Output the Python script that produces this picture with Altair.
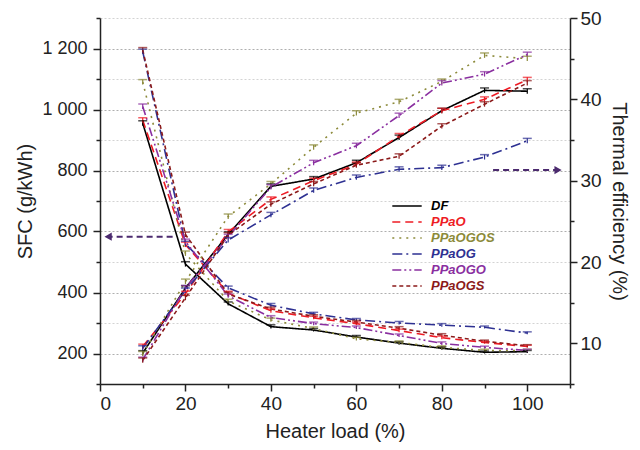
import altair as alt
import pandas as pd

loads = [10, 20, 30, 40, 50, 60, 70, 80, 90, 100]
series_names = ["DF", "PPaO", "PPaOGOS", "PPaOG", "PPaOGO", "PPaOGS"]
series_colors = ["#000000", "#ee1c25", "#8c8a3a", "#2e3192", "#8a2fa0", "#8b1a1a"]
series_dash = [[1, 0], [8, 5], [2, 5], [10, 4, 2, 4], [9, 3, 2, 3, 2, 3], [4, 3]]

# SFC (g/kWh)
sfc_DF = [955, 493, 363, 288, 277, 254, 234, 217, 204, 206]
sfc_PPaO = [965, 557, 398, 340, 317, 298, 275, 252, 236, 223]
sfc_PPaOGOS = [1090, 528, 372, 310, 282, 248, 236, 220, 210, 210]
sfc_PPaOG = [1190, 560, 415, 358, 330, 310, 300, 293, 286, 267]
sfc_PPaOGO = [1010, 567, 389, 318, 298, 285, 259, 233, 220, 210]
sfc_PPaOGS = [1195, 590, 395, 346, 322, 303, 283, 260, 240, 225]

# Thermal efficiency (%)
te_DF = [8.8, 16.8, 23.4, 29.3, 30.2, 32.2, 35.3, 38.6, 41.1, 41.0]
te_PPaO = [9.6, 16.1, 23.7, 27.7, 30.0, 32.0, 35.5, 38.6, 40.0, 42.4]
te_PPaOGOS = [8.7, 17.6, 25.6, 29.6, 34.1, 38.3, 39.7, 42.2, 45.4, 45.0]
te_PPaOG = [9.4, 16.5, 22.7, 25.8, 28.8, 30.4, 31.4, 31.6, 32.9, 34.9]
te_PPaOGO = [8.0, 16.8, 23.1, 29.2, 32.2, 34.3, 38.0, 42.0, 43.1, 45.5]
te_PPaOGS = [7.9, 15.6, 23.3, 27.1, 29.6, 31.9, 33.0, 36.7, 39.4, 42.0]

sfc_err = [8, 8, 6, 6, 5, 5, 5, 5, 4, 4]
te_err = [0.3, 0.3, 0.3, 0.3, 0.3, 0.3, 0.3, 0.3, 0.3, 0.3]

# annotation arrows (data space)
arrow_left_x = [17, 1.9]     # tail, tip
arrow_left_sfc = 583
arrow_right_x = [92, 107.2]  # tail, tip
arrow_right_te = 31.3
arrow_color = "#4b2a6e"

sfc_all = [sfc_DF, sfc_PPaO, sfc_PPaOGOS, sfc_PPaOG, sfc_PPaOGO, sfc_PPaOGS]
te_all = [te_DF, te_PPaO, te_PPaOGOS, te_PPaOG, te_PPaOGO, te_PPaOGS]

rows = []
for name, s_vals, t_vals in zip(series_names, sfc_all, te_all):
    for i, ld in enumerate(loads):
        rows.append({
            "load": ld, "series": name,
            "sfc": s_vals[i], "sfc_lo": s_vals[i] - sfc_err[i], "sfc_hi": s_vals[i] + sfc_err[i],
            "te": t_vals[i], "te_lo": t_vals[i] - te_err[i], "te_hi": t_vals[i] + te_err[i],
        })
df = pd.DataFrame(rows)

label_expr = "".join(
    f"datum.label == '{n}' ? '{c}' : " for n, c in zip(series_names, series_colors)
) + "'#000'"

def make_legend():
    return alt.Legend(
        title=None, orient="none", legendX=299, legendY=180,
        symbolType="M-2.1,0H2.1", symbolSize=196, symbolStrokeWidth=1.6,
        labelFont="Liberation Sans", labelFontSize=13, labelFontWeight="bold",
        labelFontStyle="italic", labelColor={"expr": label_expr},
        rowPadding=1, labelOffset=16,
    )

color = alt.Color("series:N", scale=alt.Scale(domain=series_names, range=series_colors), legend=make_legend())
dash = alt.StrokeDash("series:N", scale=alt.Scale(domain=series_names, range=series_dash), legend=make_legend())
color_nolegend = alt.Color("series:N", legend=None)

xscale = alt.Scale(domain=[0, 110], nice=False, zero=False)
x_axis = alt.Axis(
    title="Heater load (%)", values=list(range(0, 111, 10)),
    labelExpr="datum.value % 20 == 0 && datum.value <= 100 ? datum.label : ''",
    grid=False,
    tickSize={"condition": {"test": "datum.value % 20 == 0", "value": 7}, "value": 4},
    labelPadding=3, titlePadding=8,
)
x = alt.X("load:Q", scale=xscale, axis=x_axis)

sfc_scale = alt.Scale(domain=[100, 1300], nice=False, zero=False)
te_scale = alt.Scale(domain=[5, 50], nice=False, zero=False)

sfc_axis = alt.Axis(
    title="SFC (g/kWh)", values=list(range(100, 1301, 100)),
    labelExpr="datum.value % 200 == 0 && datum.value > 100 ? replace(format(datum.value, ','), ',', ' ') : ''",
    grid=True, gridDash=[2, 2],
    gridColor={"condition": {"test": "datum.value % 200 == 0", "value": "#9a9a9a"}, "value": "#c8c8c8"},
    gridWidth=0.8,
    tickSize={"condition": {"test": "datum.value % 200 == 0", "value": 7}, "value": 4},
    labelFontSize=18, labelPadding=6, titlePadding=6,
)
te_axis = alt.Axis(
    title="Thermal efficiency (%)", orient="right", values=list(range(5, 51, 5)),
    labelExpr="datum.value % 10 == 0 ? datum.label : ''",
    grid=False,
    tickSize={"condition": {"test": "datum.value % 10 == 0", "value": 7}, "value": 4},
    labelPadding=3, titlePadding=7,
)

base = alt.Chart(df)

sfc_lines = base.mark_line(strokeWidth=1.6).encode(
    x=x, y=alt.Y("sfc:Q", scale=sfc_scale, axis=sfc_axis),
    color=color, strokeDash=dash,
)
sfc_err_rule = base.mark_rule(strokeWidth=1.2).encode(
    x=x, y=alt.Y("sfc_lo:Q", scale=sfc_scale, axis=sfc_axis), y2="sfc_hi:Q",
    color=color_nolegend,
)
sfc_cap = base.mark_tick(thickness=1.5, size=9, orient="horizontal").encode(
    x=x, y=alt.Y("sfc_hi:Q", scale=sfc_scale, axis=sfc_axis),
    color=color_nolegend,
)

arrow_l = pd.DataFrame({"x1": [arrow_left_x[0]], "x2": [arrow_left_x[1]], "y": [arrow_left_sfc]})
arrow_r = pd.DataFrame({"x1": [arrow_right_x[0]], "x2": [arrow_right_x[1]], "y": [arrow_right_te]})

arr_l_line = alt.Chart(arrow_l).mark_rule(strokeWidth=2, strokeDash=[6, 4], color=arrow_color).encode(
    x=alt.X("x1:Q", scale=xscale, axis=x_axis), x2="x2:Q", y=alt.Y("y:Q", scale=sfc_scale, axis=sfc_axis)
)
arr_l_head = alt.Chart(arrow_l).mark_point(shape="triangle-left", filled=True, size=70, opacity=1, color=arrow_color).encode(
    x=alt.X("x2:Q", scale=xscale, axis=x_axis), y=alt.Y("y:Q", scale=sfc_scale, axis=sfc_axis)
)

te_lines = base.mark_line(strokeWidth=1.6).encode(
    x=x, y=alt.Y("te:Q", scale=te_scale, axis=te_axis),
    color=color, strokeDash=dash,
)
te_err_rule = base.mark_rule(strokeWidth=1.2).encode(
    x=x, y=alt.Y("te_lo:Q", scale=te_scale, axis=te_axis), y2="te_hi:Q",
    color=color_nolegend,
)
te_cap = base.mark_tick(thickness=1.5, size=9, orient="horizontal").encode(
    x=x, y=alt.Y("te_hi:Q", scale=te_scale, axis=te_axis),
    color=color_nolegend,
)
arr_r_line = alt.Chart(arrow_r).mark_rule(strokeWidth=2, strokeDash=[6, 4], color=arrow_color).encode(
    x=alt.X("x1:Q", scale=xscale, axis=x_axis), x2="x2:Q", y=alt.Y("y:Q", scale=te_scale, axis=te_axis)
)
arr_r_head = alt.Chart(arrow_r).mark_point(shape="triangle-right", filled=True, size=70, opacity=1, color=arrow_color).encode(
    x=alt.X("x2:Q", scale=xscale, axis=x_axis), y=alt.Y("y:Q", scale=te_scale, axis=te_axis)
)

left = alt.layer(sfc_lines, sfc_err_rule, sfc_cap, arr_l_line, arr_l_head)
right = alt.layer(te_lines, te_err_rule, te_cap, arr_r_line, arr_r_head)

chart = alt.layer(left, right).resolve_scale(y="independent").properties(
    width=470, height=366,
    autosize=alt.AutoSizeParams(type="none"),
    padding={"left": 92, "top": 10, "right": 62, "bottom": 58},
).configure(
    font="Liberation Sans",
).configure_axis(
    labelFont="Liberation Sans", titleFont="Liberation Sans",
    labelFontSize=19, titleFontSize=20, titleFontWeight="normal",
    labelColor="#222", titleColor="#222", domainColor="#222", tickColor="#222",
    domainWidth=1.5, tickWidth=1.5,
).configure_view(stroke=None)

chart.save("out.html", embed_options={"renderer": "svg", "actions": False})
